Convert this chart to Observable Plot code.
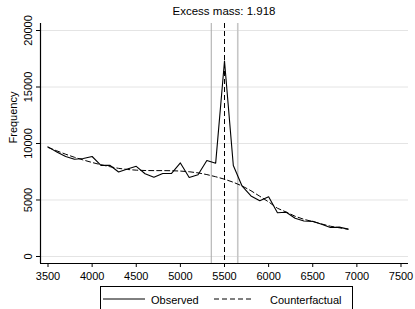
<!DOCTYPE html>
<html>
<head>
<meta charset="utf-8">
<script src="https://cdn.jsdelivr.net/npm/d3@7"></script>
<script src="https://cdn.jsdelivr.net/npm/@observablehq/plot@0.6"></script>
<style>
  html, body { margin: 0; padding: 0; background: #fff; }
  #wrap { position: relative; width: 415px; height: 309px; overflow: hidden; font-family: "Liberation Sans", Arial, sans-serif; color: #000; }
  #title { position: absolute; top: 4px; left: 40px; width: 368px; text-align: center; font-size: 11.5px; line-height: 14px; }
  #chart { position: absolute; top: 0; left: 0; }
  #legend { position: absolute; top: 286px; left: 100px; width: 253px; height: 40px; border: 1px solid #000; box-sizing: border-box; font-size: 11px; }
  #legend span { position: absolute; top: 7px; line-height: 13px; }
  #legend svg { position: absolute; top: 0; left: 0; }
</style>
</head>
<body>
<div id="wrap">
  <div id="title"></div>
  <div id="chart"></div>
  <div id="legend"></div>
</div>
<script>
// ---- data ----
const titleText = "Excess mass: 1.918";
const yLabel = "Frequency";
const bins = [3500,3600,3700,3800,3900,4000,4100,4200,4300,4400,4500,4600,4700,4800,4900,5000,5100,5200,5300,5400,5500,5600,5700,5800,5900,6000,6100,6200,6300,6400,6500,6600,6700,6800,6900];
const observed = [9700,9250,8850,8600,8670,8850,8060,8080,7480,7740,7980,7320,7010,7340,7360,8280,6990,7240,8500,8260,17300,8050,6220,5360,4930,5280,3870,3920,3380,3140,3110,2850,2560,2600,2420];
const counterfactual = [9650,9350,9050,8780,8540,8320,8120,7950,7800,7700,7640,7610,7600,7600,7590,7560,7500,7400,7250,7060,6840,6570,6240,5820,5330,4830,4270,3930,3560,3290,3090,2880,2680,2540,2420];
const xTicks = [3500,4000,4500,5000,5500,6000,6500,7000,7500];
const yTicks = [0,5000,10000,15000,20000];
const cutoff = 5500;
const bandLow = 5350;
const bandHigh = 5650;
const xDomain = [3415, 7585];
const yDomain = [-620, 20620];
const legendItems = ["Observed", "Counterfactual"];

// ---- table ----
const rows = bins.map((b, i) => ({bin: b, observed: observed[i], counterfactual: counterfactual[i]}));

document.getElementById("title").textContent = titleText;

const plot = Plot.plot({
  width: 415,
  height: 286,
  marginTop: 23,
  marginBottom: 23,
  marginLeft: 40,
  marginRight: 7,
  style: {fontFamily: "'Liberation Sans', Arial, sans-serif", fontSize: "11px", color: "#000", background: "transparent"},
  x: {domain: xDomain},
  y: {domain: yDomain},
  marks: [
    Plot.gridY(yTicks, {stroke: "#e4e4e4", strokeOpacity: 1, strokeWidth: 1}),
    Plot.ruleX([bandLow], {stroke: "#a8a8a8", strokeWidth: 1}),
    Plot.ruleX([bandHigh], {stroke: "#c6c6c6", strokeWidth: 1.6}),
    Plot.ruleX([cutoff], {stroke: "#000", strokeWidth: 1, strokeDasharray: "5,3"}),
    Plot.line(rows, {x: "bin", y: "counterfactual", stroke: "#000", strokeWidth: 1, strokeDasharray: "5,3"}),
    Plot.line(rows, {x: "bin", y: "observed", stroke: "#000", strokeWidth: 1.1}),
    Plot.ruleX([xDomain[0]], {stroke: "#000", strokeWidth: 1.2}),
    Plot.ruleY([yDomain[0]], {stroke: "#000", strokeWidth: 1.2}),
    Plot.axisY(yTicks, {tickSize: 4, tickRotate: -90, tickFormat: d3.format("d"), label: null, fontSize: 11, fill: "#000"}),
    Plot.axisX(xTicks, {tickSize: 4, tickFormat: d3.format("d"), label: null, fontSize: 11, fill: "#000"}),
    Plot.text([yLabel], {frameAnchor: "left", text: d => d, rotate: -90, dx: -27, fontSize: 11, fill: "#000"})
  ]
});
document.getElementById("chart").appendChild(plot);

// ---- legend ----
const lg = document.getElementById("legend");
const ns = "http://www.w3.org/2000/svg";
const lsvg = document.createElementNS(ns, "svg");
lsvg.setAttribute("width", 253);
lsvg.setAttribute("height", 30);
const samples = [{x1: 2, x2: 44, dash: null}, {x1: 113, x2: 155, dash: "5,3,5,3,5,3,5,3,5,5,1,3"}];
samples.forEach(s => {
  const l = document.createElementNS(ns, "line");
  l.setAttribute("x1", s.x1); l.setAttribute("x2", s.x2);
  l.setAttribute("y1", 12); l.setAttribute("y2", 12);
  l.setAttribute("stroke", "#000"); l.setAttribute("stroke-width", 1);
  if (s.dash) l.setAttribute("stroke-dasharray", s.dash);
  lsvg.appendChild(l);
});
lg.appendChild(lsvg);
const lefts = [50, 169];
legendItems.forEach((t, i) => {
  const sp = document.createElement("span");
  sp.textContent = t;
  sp.style.left = lefts[i] + "px";
  lg.appendChild(sp);
});
</script>
</body>
</html>
